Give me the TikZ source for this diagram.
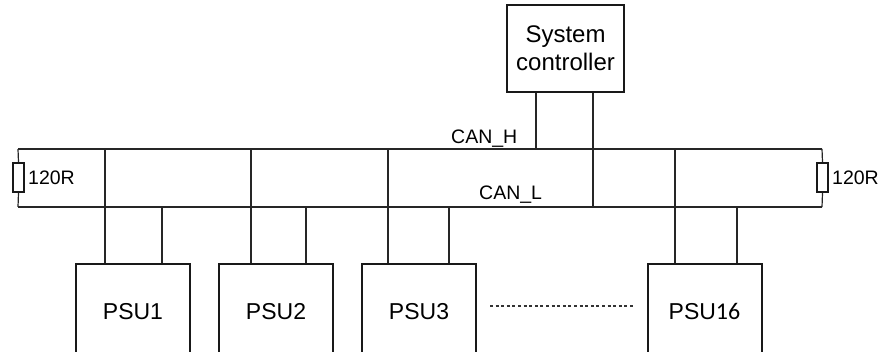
\documentclass[tikz,border=0pt]{standalone}
\usepackage{fontspec}
\setmainfont{Liberation Sans}
\newfontfamily\calfont{Carlito}
\usetikzlibrary{calc}
\tikzset{
  wire/.style={line width=1.2pt, draw=black!85},
  box/.style={draw=black!90, line width=2pt, fill=white, inner sep=0pt, minimum width=114pt, minimum height=96pt, font=\fontsize{23}{27}\selectfont},
  ctrlbox/.style={draw=black!90, line width=2pt, inner sep=0pt, minimum width=117pt, minimum height=87pt, align=center, font=\fontsize{24}{28}\selectfont},
  resistor/.style={draw=black!90, line width=1.8pt, fill=white, inner sep=0pt, minimum width=11pt, minimum height=29pt},
  lbl/.style={inner sep=0pt, font=\fontsize{19.5}{22}\selectfont},
  dotline/.style={line width=1.2pt, draw=black!80, dash pattern=on 3pt off 2.6pt}
}
\begin{document}
\begin{tikzpicture}[x=1pt,y=-1pt]
\useasboundingbox (0,0) rectangle (882,352);
\clip (0,0) rectangle (882,352);
% bus end points
\coordinate (HL) at (18,149);
\coordinate (HR) at (822,149);
\coordinate (LL) at (18,207);
\coordinate (LR) at (822,207);
% resistors
\node[resistor] (rl) at (18.5,177.5) {};
\node[resistor] (rr) at (822.5,177.5) {};
\node[lbl, anchor=west] (rlt) at (28,178) {120R};
\node[lbl, anchor=west] (rrt) at (832,178) {120R};
% system controller
\node[ctrlbox] (sc) at (565.5,48.5) {System\\controller};
% PSU boxes
\node[box] (p1) at (133,312) {PSU1};
\node[box] (p2) at (276,312) {PSU2};
\node[box] (p3) at (419,312) {PSU3};
\node[box] (p16) at (704.5,312) {PSU{\calfont\fontsize{24}{27}\selectfont 16}};
% bus lines
\draw[wire] (HL) -- (HR);
\draw[wire] (LL) -- (LR);
\draw[wire] (HL) -- (rl.north) (rl.south) -- (LL);
\draw[wire] (HR) -- (rr.north) (rr.south) -- (LR);
% taps
\foreach \n/\h/\l in {p1/105/162, p2/251/306, p3/388/449, p16/675/737}{
  \coordinate (\n h) at (\h,149);
  \coordinate (\n l) at (\l,207);
  \draw[wire] (\n h) -- (\n h |- \n.north);
  \draw[wire] (\n l) -- (\n l |- \n.north);
}
\coordinate (sch) at (536,149);
\coordinate (scl) at (593,207);
\draw[wire] (sch |- sc.south) -- (sch);
\draw[wire] (scl |- sc.south) -- (scl);
% labels
\node[lbl, anchor=base west] (canh) at (451,144) {CAN\_H};
\node[lbl, anchor=base west] (canl) at (479,200) {CAN\_L};
% dotted
\draw[dotline] ($(p3.east)+(13,-6)$) -- ($(p16.west)+(-12,-6)$);
\end{tikzpicture}
\end{document}
